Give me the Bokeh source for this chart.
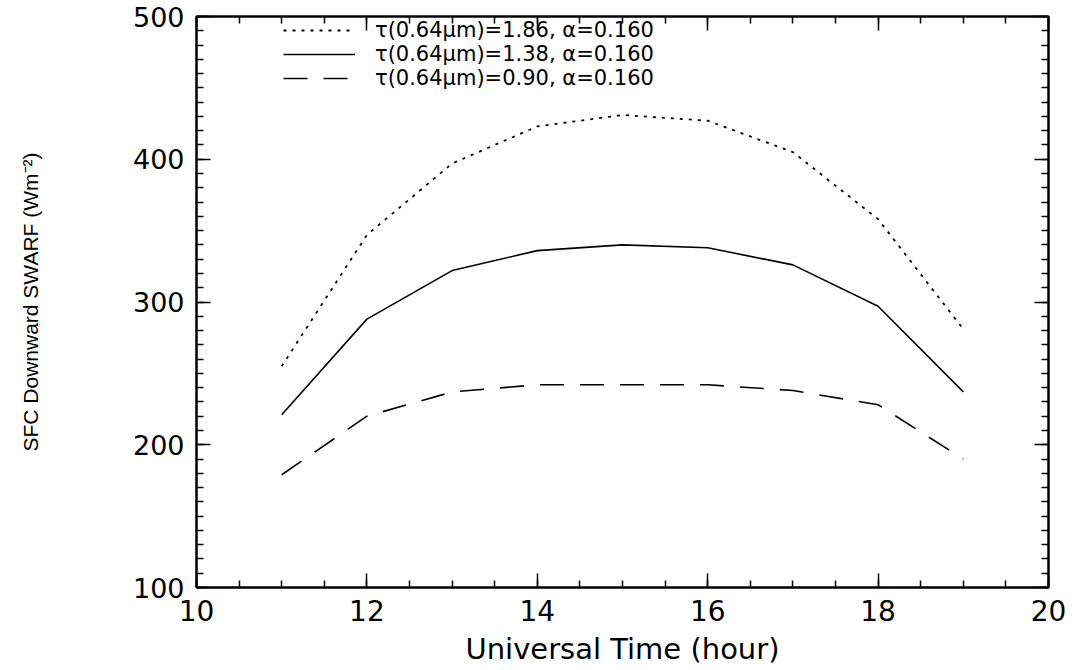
from bokeh.plotting import figure
from bokeh.models import (LinearAxis, SingleIntervalTicker, Legend, LegendItem,
                          Range1d, ColumnDataSource)
from bokeh.embed import file_html
from bokeh.resources import INLINE

# ---- data ----
hours = [11, 12, 13, 14, 15, 16, 17, 18, 19]
swarf_tau186 = [255, 347, 397, 423, 431, 427, 405, 358, 281]
swarf_tau138 = [221, 288, 322, 336, 340, 338, 326, 297, 237]
swarf_tau090 = [179, 220, 237, 242, 242, 242, 238, 228, 190]
series_labels = [
    "τ(0.64μm)=1.86, α=0.160",
    "τ(0.64μm)=1.38, α=0.160",
    "τ(0.64μm)=0.90, α=0.160",
]
x_label = "Universal Time (hour)"
y_label = "SFC Downward SWARF (Wm⁻²)"

FONT = "DejaVu Sans"

src = ColumnDataSource(dict(x=hours, a=swarf_tau186, b=swarf_tau138, c=swarf_tau090))

p = figure(width=1079, height=670, output_backend="svg", toolbar_location=None,
           x_range=Range1d(10, 20), y_range=Range1d(100, 500),
           min_border_left=196, min_border_right=31, min_border_top=16,
           min_border_bottom=83, background_fill_color="white",
           border_fill_color="white")
p.xgrid.visible = False
p.ygrid.visible = False
p.outline_line_color = "black"
p.outline_line_width = 2

r1 = p.line("x", "a", source=src, line_color="black", line_width=1.8, line_dash="3 6")
r2 = p.line("x", "b", source=src, line_color="black", line_width=1.6)
r3 = p.line("x", "c", source=src, line_color="black", line_width=1.6, line_dash="24 16")

def style_axis(ax, show_labels=True, size="28px"):
    ax.axis_line_color = "black"
    ax.axis_line_width = 2
    ax.major_tick_in = 14
    ax.major_tick_out = 0
    ax.minor_tick_in = 7
    ax.minor_tick_out = 0
    ax.major_tick_line_width = 1.5
    ax.minor_tick_line_width = 1.5
    ax.major_tick_line_color = "black"
    ax.minor_tick_line_color = "black"
    ax.major_label_text_font = FONT
    ax.major_label_text_font_size = size
    ax.major_label_text_color = "black"
    ax.major_label_standoff = 12
    if not show_labels:
        ax.major_label_text_font_size = "0px"
        ax.major_label_text_color = None

p.xaxis.ticker = SingleIntervalTicker(interval=2, num_minor_ticks=4)
p.yaxis.ticker = SingleIntervalTicker(interval=100, num_minor_ticks=10)
style_axis(p.xaxis[0], size="28px")
style_axis(p.yaxis[0], size="27px")
p.xaxis.axis_label = x_label
p.xaxis.axis_label_text_font = FONT
p.xaxis.axis_label_text_font_size = "29px"
p.xaxis.axis_label_text_font_style = "normal"
p.xaxis.axis_label_text_color = "black"
p.xaxis.axis_label_standoff = 8

top = LinearAxis(ticker=SingleIntervalTicker(interval=2, num_minor_ticks=4))
style_axis(top, show_labels=False)
right = LinearAxis(ticker=SingleIntervalTicker(interval=100, num_minor_ticks=10))
style_axis(right, show_labels=False)
p.add_layout(top, "above")
p.add_layout(right, "right")

# y-axis title on a label-only axis, placed at the far left like the reference
ytitle_axis = LinearAxis(ticker=SingleIntervalTicker(interval=100, num_minor_ticks=0),
                         axis_label=y_label)
ytitle_axis.axis_line_color = None
ytitle_axis.major_tick_line_color = None
ytitle_axis.minor_tick_line_color = None
ytitle_axis.major_tick_in = 0
ytitle_axis.major_tick_out = 0
ytitle_axis.minor_tick_in = 0
ytitle_axis.minor_tick_out = 0
ytitle_axis.major_label_text_font_size = "0px"
ytitle_axis.major_label_text_color = None
ytitle_axis.major_label_standoff = 0
ytitle_axis.axis_label_standoff = 88
ytitle_axis.axis_label_text_font = "Liberation Sans"
ytitle_axis.axis_label_text_font_size = "21px"
ytitle_axis.axis_label_text_font_style = "normal"
ytitle_axis.axis_label_text_color = "black"
p.add_layout(ytitle_axis, "left")

legend = Legend(items=[LegendItem(label=series_labels[0], renderers=[r1]),
                       LegendItem(label=series_labels[1], renderers=[r2]),
                       LegendItem(label=series_labels[2], renderers=[r3])],
                location=(87, 497), border_line_color=None,
                background_fill_alpha=0, label_text_font=FONT,
                label_text_color="black",
                label_text_font_size="21px", glyph_width=72, glyph_height=22,
                label_height=22, spacing=0, padding=0, margin=0,
                label_standoff=20)
p.add_layout(legend)

open("out.html", "w").write(file_html(p, INLINE))
